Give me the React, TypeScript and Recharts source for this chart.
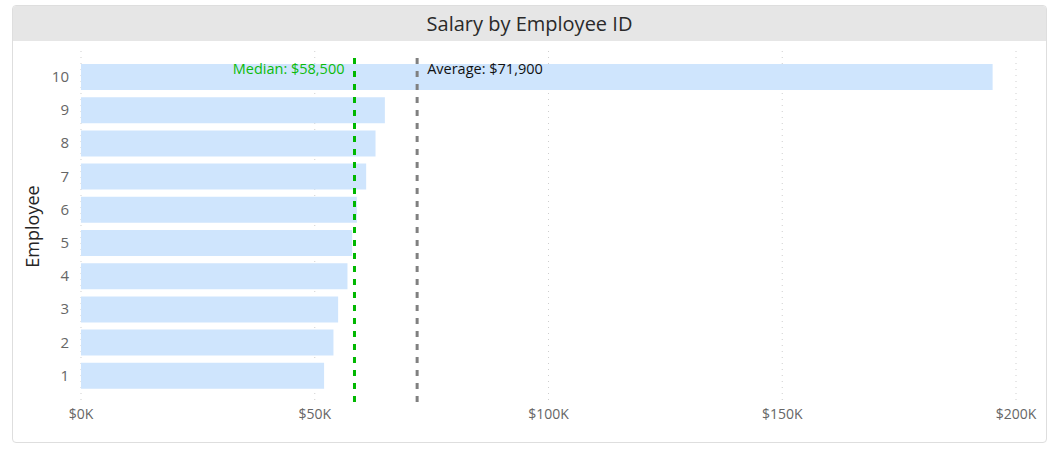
import React from "react";
import {
  BarChart,
  Bar,
  XAxis,
  YAxis,
  CartesianGrid,
  ReferenceLine,
} from "recharts";

const employeeIds = ["1", "2", "3", "4", "5", "6", "7", "8", "9", "10"];
const salaries = [52000, 54000, 55000, 57000, 58000, 59000, 61000, 63000, 65000, 195000];
const salaryTicks = [0, 50000, 100000, 150000, 200000];
const medianSalary = 58500;
const averageSalary = 71900;

const data = employeeIds.map((id, i) => ({ id, salary: salaries[i] }));

const FONT = "'Open Sans', 'Noto Sans', sans-serif";

const money = (v: number) => "$" + Math.round(v / 1000) + "K";
const moneyFull = (v: number) => "$" + v.toLocaleString("en-US");

export default function App() {
  return (
    <div
      style={{
        position: "absolute",
        left: 12,
        top: 5,
        width: 1035,
        height: 438,
        boxSizing: "border-box",
        border: "1px solid #dedede",
        borderRadius: 4,
        background: "#fff",
        fontFamily: FONT,
        overflow: "hidden",
      }}
    >
      {/* title bar */}
      <div
        style={{
          height: 35,
          background: "#e6e6e6",
          color: "#2a2a2a",
          fontSize: 20,
          lineHeight: "35px",
          textAlign: "center",
        }}
      >
        Salary by Employee ID
      </div>
      <BarChart
        width={1033}
        height={401}
        data={data}
        layout="vertical"
        margin={{ top: 10, right: 30, bottom: 10, left: 0 }}
        style={{ fontFamily: FONT }}
      >
        <CartesianGrid
          horizontal={false}
          stroke="#cfcfcf"
          strokeDasharray="1 5"
        />
        <XAxis
          type="number"
          dataKey="salary"
          domain={[0, 200000]}
          ticks={salaryTicks}
          tickFormatter={money}
          axisLine={false}
          tickLine={false}
          tickSize={0}
          tickMargin={7}
          height={30}
          tick={{ fill: "#666", fontSize: 14 }}
        />
        <YAxis
          type="category"
          dataKey="id"
          reversed
          width={68}
          axisLine={false}
          tickLine={false}
          tickSize={8}
          tickMargin={4}
          padding={{ top: 9, bottom: 10 }}
          tick={{ fill: "#666", fontSize: 15 }}
          label={{
            value: "Employee",
            angle: -90,
            position: "center",
            dx: -14,
            fill: "#252525",
            fontSize: 18,
          }}
        />
        <Bar
          dataKey="salary"
          fill="#cfe5fd"
          barSize={26}
          isAnimationActive={false}
        />
        <ReferenceLine
          x={medianSalary}
          stroke="#00b800"
          strokeWidth={3}
          strokeDasharray="6 7"
          label={{
            value: "Median: " + moneyFull(medianSalary),
            position: "insideTopRight",
            offset: 10,
            dy: 3,
            fill: "#0bbb0b",
            fontSize: 14.5,
          }}
        />
        <ReferenceLine
          x={averageSalary}
          stroke="#808080"
          strokeWidth={3}
          strokeDasharray="6 7"
          label={{
            value: "Average: " + moneyFull(averageSalary),
            position: "insideTopLeft",
            offset: 10,
            dy: 3,
            fill: "#111",
            fontSize: 14.5,
          }}
        />
      </BarChart>
    </div>
  );
}
